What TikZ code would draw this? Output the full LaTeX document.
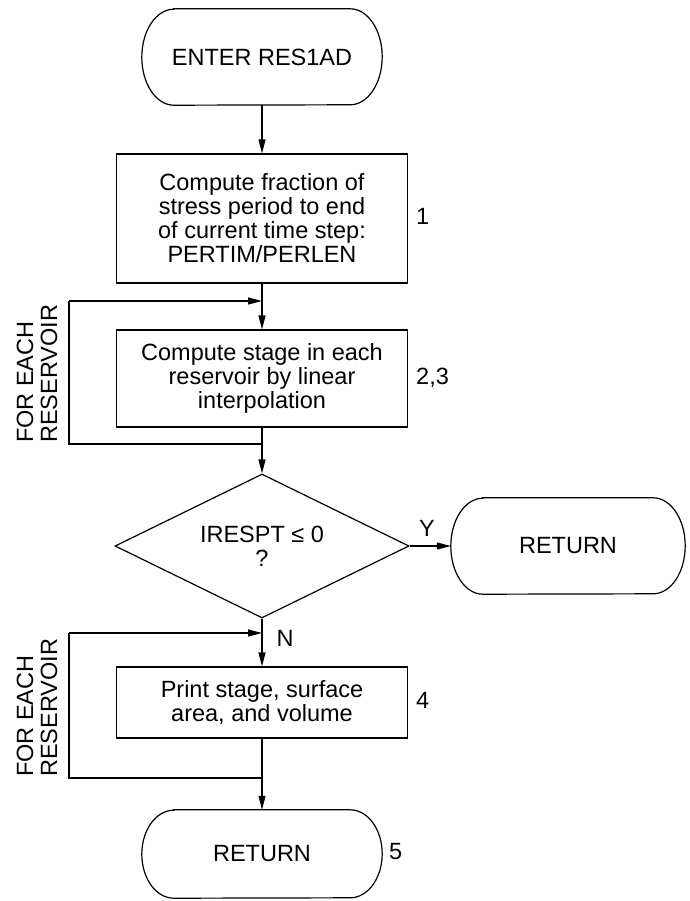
\documentclass[tikz,border=0pt]{standalone}
\usepackage{fontspec}
\setmainfont{Liberation Sans}
\usetikzlibrary{shapes.geometric,arrows.meta}

\begin{document}
\begin{tikzpicture}[x=1pt,y=1pt,
    every node/.style={font=\chartfontsize},
    proc/.style={draw,line width=1.2pt,minimum width=291pt,align=center,inner sep=0pt},
    decide/.style={draw,line width=1.2pt,diamond,aspect=2,minimum width=294pt,minimum height=144pt,align=center,inner sep=0pt},
    term/.style={minimum width=240pt,align=center,inner sep=0pt},
    flow/.style={line width=1.2pt,-{Triangle[length=14pt,width=7pt]}},
    loopline/.style={line width=1.2pt},
    steplabel/.style={anchor=west,inner sep=0pt},
    looplabel/.style={rotate=90,anchor=west,align=left,inner sep=0pt}]
    \providecommand{\chartfontsize}{\fontsize{23.5pt}{24pt}\selectfont}
    \pgfmathsetmacro{\mainx}{262}
    \pgfmathsetmacro{\loopx}{69}
    \pgfmathsetmacro{\endrad}{32}
    \useasboundingbox (0,0) rectangle (689,-901);
    \node[term,minimum height=96pt] (enter) at (\mainx,-57) {ENTER RES1AD};
    \node[proc,minimum height=129pt] (fraction) at (\mainx,-218.5) {Compute fraction of\\stress period to end\\of current time step:\\PERTIM/PERLEN};
    \node[steplabel] (s1) at (416,-216) {1};
    \node[proc,minimum height=97pt] (stage) at (\mainx,-378.5) {Compute stage in each\\reservoir by linear\\interpolation};
    \node[steplabel] (s23) at (416,-378) {2,3};
    \node[decide] (test) at (\mainx,-546) {IRESPT ≤ 0\\?};
    \node[term,minimum width=234pt,minimum height=96pt] (ret1) at (568,-546) {RETURN};
    \node (yes) at (427,-528) {Y};
    \node (no) at (285,-638) {N};
    \node[proc,minimum height=71pt] (print) at (\mainx,-702.5) {Print stage, surface\\area, and volume};
    \node[steplabel] (s4) at (416,-700) {4};
    \node[term,minimum height=88pt] (ret2) at (\mainx,-854) {RETURN};
    \node[steplabel] (s5) at (389,-852) {5};
    \node[looplabel] (each1) at (37,-443) {FOR EACH\\RESERVOIR};
    \node[looplabel] (each2) at (37,-777) {FOR EACH\\RESERVOIR};
    % terminal outlines
    \foreach \t/\ry in {enter/48,ret1/48,ret2/44}{
        \draw[line width=1.2pt] ([xshift=\endrad pt]\t.north west) -- ([xshift=-\endrad pt]\t.north east)
            arc[start angle=90,end angle=-90,x radius=\endrad pt,y radius=\ry pt]
            -- ([xshift=\endrad pt]\t.south west)
            arc[start angle=270,end angle=90,x radius=\endrad pt,y radius=\ry pt] -- cycle;
    }
    \coordinate (top1) at (\mainx,-301);
    \coordinate (bot1) at (\mainx,-444);
    \coordinate (top2) at (\mainx,-633);
    \coordinate (bot2) at (\mainx,-778);
    \coordinate (c1a) at (\loopx,-444);
    \coordinate (c1b) at (\loopx,-301);
    \coordinate (c2a) at (\loopx,-778);
    \coordinate (c2b) at (\loopx,-633);
    \draw[flow] (enter) -- (fraction);
    \draw[flow] (fraction) -- (stage);
    \draw[flow] (stage) -- (test);
    \draw[flow] (test) -- (ret1);
    \draw[flow] (test) -- (print);
    \draw[flow] (print) -- (ret2);
    % loops back for each reservoir
    \draw[loopline] (bot1) -- (c1a) -- (c1b);
    \draw[flow] (c1b) -- (top1);
    \draw[loopline] (bot2) -- (c2a) -- (c2b);
    \draw[flow] (c2b) -- (top2);
\end{tikzpicture}
\end{document}
